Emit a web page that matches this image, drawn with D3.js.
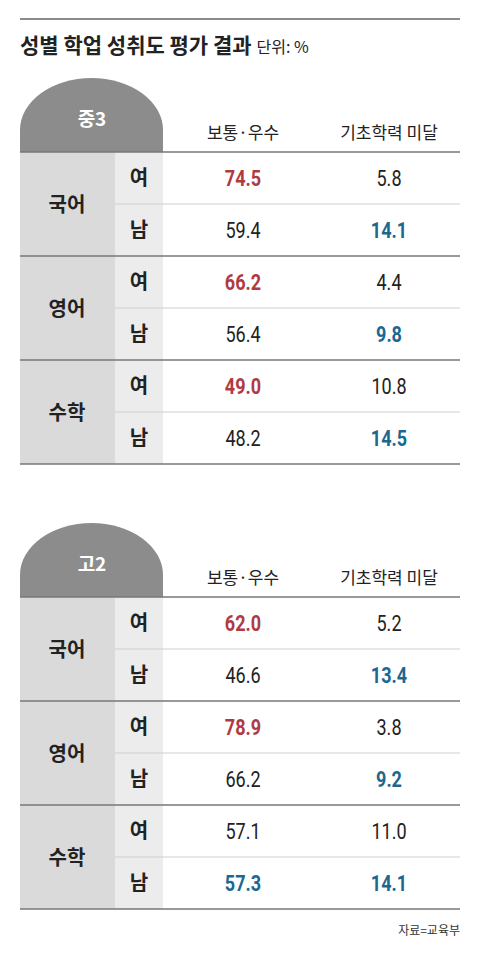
<!DOCTYPE html><html><head><meta charset="utf-8">
<script src="https://cdn.jsdelivr.net/npm/d3@7"></script>
<style>body{margin:0;background:#fff}</style></head><body>
<script>
const title = "성별 학업 성취도 평가 결과";
const unit = "단위: %";
const levels = ["중3", "고2"];
const columns = ["보통·우수", "기초학력 미달"];
const subjects = ["국어", "영어", "수학"];
const genders = ["여", "남"];
// [level][subject][gender] = [보통·우수, 기초학력 미달]
const values = [
  [[[74.5,5.8],[59.4,14.1]], [[66.2,4.4],[56.4,9.8]], [[49.0,10.8],[48.2,14.5]]],
  [[[62.0,5.2],[46.6,13.4]], [[78.9,3.8],[66.2,9.2]], [[57.1,11.0],[57.3,14.1]]]
];
// highlight: "r" red, "b" blue, "" none
const highlight = [
  [[["r",""],["","b"]], [["r",""],["","b"]], [["r",""],["","b"]]],
  [[["r",""],["","b"]], [["r",""],["","b"]], [["",""],["b","b"]]]
];
const source = "자료=교육부";

const W=480,H=954;
const svg=d3.select("body").append("svg").attr("width",W).attr("height",H);
const KF="'Noto Sans CJK KR','Noto Sans',sans-serif";
const NF="Roboto,sans-serif";
const colC={r:"#b03a42",b:"#1d6890","":"#222"};

svg.append("line").attr("x1",20).attr("x2",460).attr("y1",19).attr("y2",19).attr("stroke","#8a8a8a").attr("stroke-width",2);
const t=svg.append("text").attr("x",20).attr("y",53).attr("font-family",KF).attr("fill","#222");
t.append("tspan").attr("font-size",21).attr("font-weight",700).text(title);
t.append("tspan").attr("font-size",16).attr("dx",5).text(unit);

const x=d3.scalePoint().domain(columns).range([243,389]);
const rowH=52;
levels.forEach((lv,li)=>{
  const top=152+li*445;
  const y=d3.scaleBand().domain(d3.range(6)).range([top,top+6*rowH]);
  const g=svg.append("g");
  g.append("path").attr("d",`M20,${top} L20,${top-22} A71.5,52 0 0 1 163,${top-22} L163,${top} Z`).attr("fill","#8c8c8c");
  g.append("text").attr("x",92).attr("y",top-26).attr("text-anchor","middle").attr("font-family",KF).attr("font-size",19).attr("font-weight",700).attr("fill","#fff").text(lv);
  columns.forEach(c=>g.append("text").attr("x",x(c)).attr("y",top-13).attr("text-anchor","middle").attr("font-family",KF).attr("font-size",17).attr("fill","#222").text(c));
  g.append("rect").attr("x",20).attr("y",top).attr("width",95).attr("height",6*rowH).attr("fill","#dadada");
  g.append("rect").attr("x",115).attr("y",top).attr("width",48).attr("height",6*rowH).attr("fill","#ececec");
  subjects.forEach((s,si)=>{
    const y0=y(si*2);
    g.append("text").attr("x",67).attr("y",y0+rowH+8).attr("text-anchor","middle").attr("font-family",KF).attr("font-size",20).attr("font-weight",700).attr("fill","#222").text(s);
    genders.forEach((gd,gi)=>{
      const yy=y(si*2+gi);
      g.append("text").attr("x",139).attr("y",yy+rowH/2+7).attr("text-anchor","middle").attr("font-family",KF).attr("font-size",20).attr("font-weight",700).attr("fill","#222").text(gd);
      columns.forEach((c,ci)=>{
        const h=highlight[li][si][gi][ci];
        const cx=x(c);
        g.append("text").attr("transform",`translate(${cx},${yy+rowH/2+8}) scale(0.82,1)`).attr("text-anchor","middle").attr("font-family",NF).attr("font-size",22).attr("font-weight",h?700:400).attr("fill",colC[h]).text(values[li][si][gi][ci].toFixed(1));
      });
    });
    g.append("line").attr("x1",115).attr("x2",460).attr("y1",y0+rowH).attr("y2",y0+rowH).attr("stroke","#cfcfcf").attr("stroke-width",1);
  });
  d3.range(4).forEach(k=>g.append("line").attr("x1",20).attr("x2",460).attr("y1",top+k*2*rowH).attr("y2",top+k*2*rowH).attr("stroke","#777").attr("stroke-width",1.5));
});
svg.append("text").attr("x",460).attr("y",935).attr("text-anchor","end").attr("font-family",KF).attr("font-size",12).attr("fill","#333").text(source);
</script></body></html>
